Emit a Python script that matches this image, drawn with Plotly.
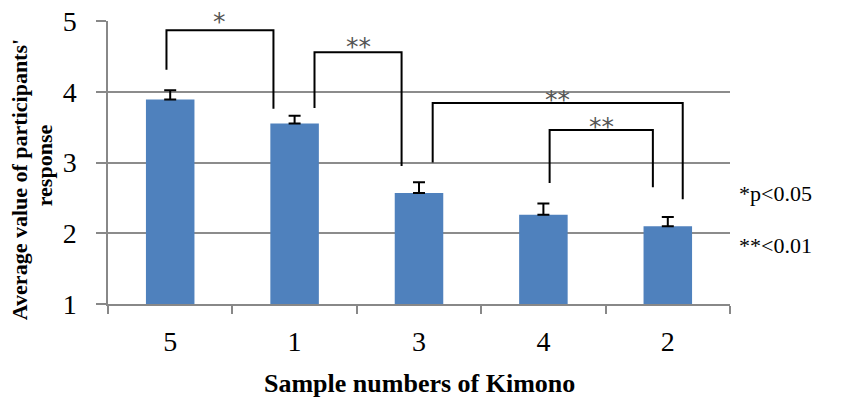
import plotly.graph_objects as go

categories = ["5", "1", "3", "4", "2"]
means = [3.89, 3.55, 2.57, 2.26, 2.10]
errors = [0.13, 0.11, 0.15, 0.16, 0.13]

# significance brackets: (x_left, y_left_end, x_right, y_right_end, y_top, label, label_y)
brackets = [
    (-0.03, 4.31, 0.83, 3.76, 4.87, "*", 5.08),
    (1.16, 3.77, 1.86, 2.95, 4.56, "**", 4.73),
    (2.11, 3.00, 4.12, 2.48, 3.84, "**", 3.98),
    (3.05, 2.71, 3.88, 2.65, 3.46, "**", 3.59),
]

Y_MIN, Y_MAX = 1, 5
serif = "Liberation Serif"

fig = go.Figure()
fig.add_trace(go.Bar(
    x=categories, y=means,
    marker=dict(color="#4F81BD", line=dict(width=0)),
    width=0.39,
    error_y=dict(type="data", array=errors, arrayminus=[0] * len(errors),
                 symmetric=False, color="black", thickness=2, width=6),
))

shapes = []
annotations = []
for xl, yl, xr, yr, yt, lab, ly in brackets:
    shapes.append(dict(type="path", xref="x", yref="y",
                       path=f"M {xl},{yl} L {xl},{yt} L {xr},{yt} L {xr},{yr}",
                       line=dict(color="black", width=2)))
    annotations.append(dict(x=(xl + xr) / 2, y=(ly - Y_MIN) / (Y_MAX - Y_MIN),
                            xref="x", yref="paper", text=lab,
                            xanchor="center", yanchor="middle", yshift=-6,
                            showarrow=False,
                            font=dict(family="DejaVu Sans", size=25, color="#555555")))

annotations += [
    dict(x=0.5, y=-0.28, xref="paper", yref="paper", text="<b>Sample numbers of Kimono</b>",
         xanchor="center", yanchor="middle",
         showarrow=False, font=dict(family=serif, size=26, color="black")),
    dict(x=-0.142, y=0.44, xref="paper", yref="paper",
         text="<b>Average value of participants'</b>", xanchor="center", yanchor="middle",
         textangle=-90, showarrow=False, font=dict(family=serif, size=22, color="black")),
    dict(x=-0.103, y=0.49, xref="paper", yref="paper",
         text="<b>response</b>", xanchor="center", yanchor="middle",
         textangle=-90, showarrow=False, font=dict(family=serif, size=22, color="black")),
    dict(x=1.011, y=0.392, xref="paper", yref="paper", text="*p&lt;0.05", xanchor="left",
         yanchor="middle",
         showarrow=False, font=dict(family=serif, size=22, color="black")),
    dict(x=1.011, y=0.208, xref="paper", yref="paper", text="**&lt;0.01", xanchor="left",
         yanchor="middle",
         showarrow=False, font=dict(family=serif, size=22, color="black")),
]

fig.update_layout(
    width=845, height=399,
    margin=dict(l=108, r=115, t=21, b=95),
    paper_bgcolor="white", plot_bgcolor="white",
    showlegend=False,
    shapes=shapes, annotations=annotations,
    xaxis=dict(type="category", tickson="boundaries", ticks="outside", ticklen=8,
               tickcolor="#888888", tickwidth=1.5, ticklabelstandoff=12, automargin=False,
               showline=True, linecolor="#888888", linewidth=1.5, showgrid=False,
               tickfont=dict(family=serif, size=28, color="black")),
    yaxis=dict(range=[Y_MIN, Y_MAX], dtick=1, showgrid=True, gridcolor="#8c8c8c", gridwidth=1.5,
               ticks="outside", ticklen=10, tickcolor="#888888", tickwidth=1.5,
               ticklabelstandoff=14, automargin=False,
               showline=True, linecolor="#888888", linewidth=1.5, zeroline=False,
               tickfont=dict(family=serif, size=28, color="black")),
)

fig.write_html("out.html")
